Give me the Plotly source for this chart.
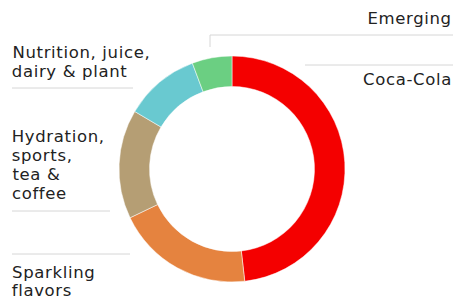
import plotly.graph_objects as go

categories = ["Coca-Cola", "Sparkling flavors", "Hydration, sports, tea & coffee",
              "Nutrition, juice, dairy & plant", "Emerging"]
shares = [48.2, 19.7, 15.6, 10.8, 5.7]
colors = ["#F40000", "#E5833F", "#B59E74", "#69C9D0", "#6BCF82"]
label_lines = {
    "Emerging": ["Emerging"],
    "Coca-Cola": ["Coca-Cola"],
    "Nutrition, juice, dairy & plant": ["Nutrition, juice,", "dairy & plant"],
    "Hydration, sports, tea & coffee": ["Hydration,", "sports,", "tea &", "coffee"],
    "Sparkling flavors": ["Sparkling", "flavors"],
}

W, H = 453, 300
FONT = "DejaVu Sans"
FS = 16.5
LS = 0.65  # letter spacing, px
TXT = "#222222"
LINE = "#d6d6d6"

def px(x):
    return x / W

def py(y):
    return 1 - y / H

fig = go.Figure(go.Pie(
    labels=categories, values=shares, sort=False, direction="clockwise",
    rotation=0, hole=0.73, textinfo="none", hoverinfo="label+percent",
    marker=dict(colors=colors, line=dict(color="white", width=0.5)),
    domain=dict(x=[px(119), px(345)], y=[py(282), py(56)]),
    showlegend=False,
))

shapes = []
def hline(x0, x1, y):
    shapes.append(dict(type="line", xref="paper", yref="paper",
                       x0=px(x0), x1=px(x1), y0=py(y), y1=py(y),
                       line=dict(color=LINE, width=1)))
def vline(x, y0, y1):
    shapes.append(dict(type="line", xref="paper", yref="paper",
                       x0=px(x), x1=px(x), y0=py(y0), y1=py(y1),
                       line=dict(color=LINE, width=1)))

hline(210, 453, 35)
vline(210, 35, 47)
hline(305, 453, 65)
hline(12, 133, 88)
hline(12, 110, 211)
hline(12, 130, 254)

annotations = []
def label(key, x, y0, step, xanchor="left"):
    for i, line in enumerate(label_lines[key]):
        extra = len(line) * LS / 2  # letter spacing grows text around its centre
        xx = x + extra if xanchor == "left" else x - extra
        annotations.append(dict(text=line, xref="paper", yref="paper",
                                x=px(xx), y=py(y0 + i * step), xanchor=xanchor,
                                yanchor="middle", showarrow=False, borderpad=0,
                                font=dict(family=FONT, size=FS, color=TXT)))

label("Emerging", 453, 18, 0, xanchor="right")
label("Coca-Cola", 453, 80, 0, xanchor="right")
label("Nutrition, juice, dairy & plant", 11, 52, 19)
label("Hydration, sports, tea & coffee", 11, 136, 19.3)
label("Sparkling flavors", 11, 272, 18.5)

fig.update_layout(width=W, height=H, margin=dict(l=0, r=0, t=0, b=0),
                  paper_bgcolor="white", plot_bgcolor="white",
                  shapes=shapes, annotations=annotations)

fig.write_html("out.html", config={"displayModeBar": False},
               post_script=("document.body.style.margin='0';"
                            "document.body.style.overflow='hidden';"
                            "document.querySelectorAll('.annotation-text').forEach("
                            "function(t){t.style.letterSpacing='%spx';});" % LS))
